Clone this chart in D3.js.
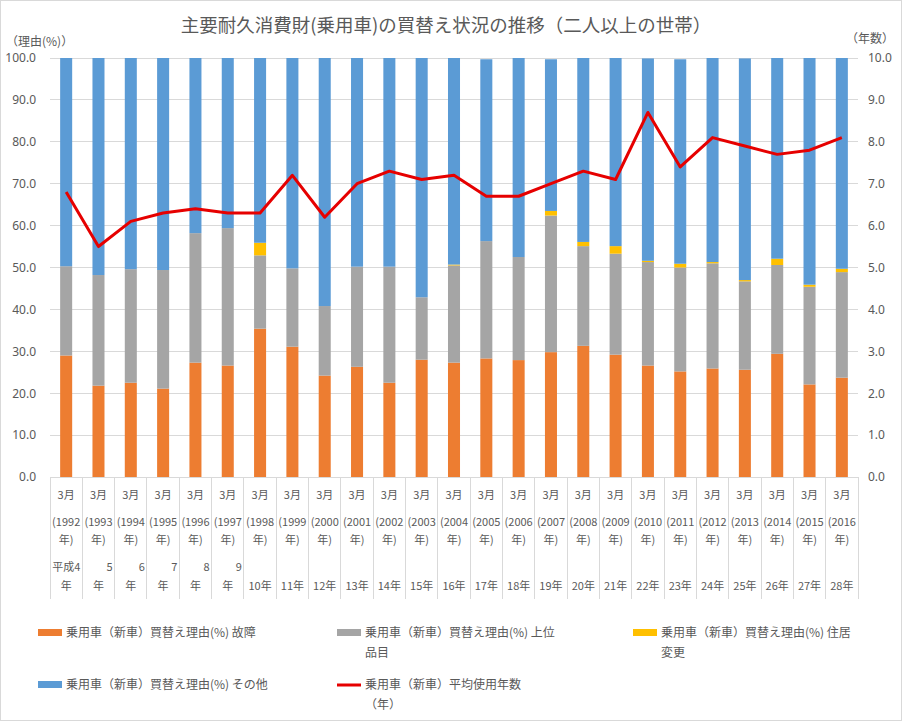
<!DOCTYPE html>
<html><head><meta charset="utf-8">
<script src="https://cdn.jsdelivr.net/npm/d3@7/dist/d3.min.js"></script>
<style>
html,body{margin:0;padding:0;background:#fff;}
text{font-family:"Noto Sans CJK JP","Noto Sans",sans-serif;fill:#595959;}
</style></head>
<body><svg id="c" width="902" height="721"></svg>
<script>
const years = [1992,1993,1994,1995,1996,1997,1998,1999,2000,2001,2002,2003,2004,2005,2006,2007,2008,2009,2010,2011,2012,2013,2014,2015,2016];
const heisei = ["平成4","5","6","7","8","9","10","11","12","13","14","15","16","17","18","19","20","21","22","23","24","25","26","27","28"];
const failure = [29.0,21.8,22.5,21.1,27.3,26.6,35.4,31.1,24.2,26.3,22.5,28.0,27.3,28.3,27.9,29.8,31.3,29.2,26.6,25.2,25.9,25.6,29.4,22.1,23.7];
const upgrade = [21.3,26.4,27.1,28.3,30.9,32.8,17.5,18.7,16.6,23.9,27.7,14.9,23.2,28.0,24.6,32.6,23.8,24.1,24.7,24.8,25.1,21.1,21.2,23.3,25.2];
const moving = [0,0,0,0,0,0,3.0,0,0,0,0,0,0.2,0,0,1.1,1.0,1.8,0.3,0.9,0.3,0.3,1.5,0.5,0.8];
const other = [49.7,51.8,50.4,50.6,41.8,40.6,44.1,50.2,59.2,49.8,49.8,57.1,49.3,43.4,47.5,36.2,43.9,44.9,48.3,48.8,48.7,52.9,47.9,54.1,50.3];
const avgYears = [6.8,5.5,6.1,6.3,6.4,6.3,6.3,7.2,6.2,7.0,7.3,7.1,7.2,6.7,6.7,7.0,7.3,7.1,8.7,7.4,8.1,7.9,7.7,7.8,8.1];
const leftTicks = [0,10,20,30,40,50,60,70,80,90,100];
const rightTicks = [0,1,2,3,4,5,6,7,8,9,10];
const colors = ["#ED7D31","#A5A5A5","#FFC000","#5B9BD5","#E60000"];

const svg = d3.select("#c");
svg.append("rect").attr("x",0.5).attr("y",0.5).attr("width",901).attr("height",720).attr("fill","#fff").attr("stroke","#d9d9d9");

const L=50, R=858, T=58, B=477;
const x = d3.scaleBand().domain(years).range([L,R]).paddingInner(0.628).paddingOuter(0.314);
const xc = d3.scaleBand().domain(years).range([L,R]).padding(0);
const yL = d3.scaleLinear().domain([0,100]).range([B,T]);
const yR = d3.scaleLinear().domain([0,10]).range([B,T]);

// gridlines
svg.append("g").selectAll("line").data(leftTicks.slice(1)).join("line")
  .attr("x1",L).attr("x2",R).attr("y1",d=>yL(d)).attr("y2",d=>yL(d))
  .attr("stroke","#d9d9d9").attr("stroke-width",1).attr("shape-rendering","crispEdges");

// left axis
const gl = svg.append("g").attr("transform",`translate(${L},0)`)
  .call(d3.axisLeft(yL).tickValues(leftTicks).tickFormat(d3.format(".1f")).tickSize(0).tickPadding(14));
gl.select(".domain").remove();
gl.selectAll("text").style("font-size","12px").attr("fill","#595959").style("font-family","'Noto Sans','DejaVu Sans',sans-serif");
// right axis
const gr = svg.append("g").attr("transform",`translate(${R},0)`)
  .call(d3.axisRight(yR).tickValues(rightTicks).tickFormat(d3.format(".1f")).tickSize(0).tickPadding(10));
gr.select(".domain").remove();
gr.selectAll("text").style("font-size","12px").attr("fill","#595959").style("font-family","'Noto Sans','DejaVu Sans',sans-serif");

// stacked bars
const rows = years.map((y,i)=>({year:y,failure:failure[i],upgrade:upgrade[i],moving:moving[i],other:other[i]}));
const stack = d3.stack().keys(["failure","upgrade","moving","other"])(rows);
svg.append("g").selectAll("g").data(stack).join("g").attr("fill",(d,i)=>colors[i])
  .selectAll("rect").data(d=>d).join("rect")
  .attr("x",d=>x(d.data.year)).attr("width",x.bandwidth())
  .attr("y",d=>yL(d[1])).attr("height",d=>Math.max(0,yL(d[0])-yL(d[1])));

// category axis
svg.append("line").attr("x1",L).attr("x2",R).attr("y1",B+0.5).attr("y2",B+0.5).attr("stroke","#d9d9d9");
svg.append("g").selectAll("line").data(d3.range(years.length+1)).join("line")
  .attr("x1",i=>L+i*xc.step()).attr("x2",i=>L+i*xc.step()).attr("y1",B).attr("y2",599)
  .attr("stroke","#d9d9d9").attr("shape-rendering","crispEdges");
const fs = "11px";
const cat = svg.append("g").selectAll("g").data(years).join("g")
  .attr("transform",d=>`translate(${xc(d)+xc.step()/2},0)`);
cat.append("text").attr("y",499).attr("text-anchor","middle").style("font-size",fs).text("3月");
cat.append("text").attr("y",526).attr("text-anchor","middle").style("font-size",fs).text(d=>"("+d);
cat.append("text").attr("y",544).attr("text-anchor","middle").style("font-size",fs).text("年)");
cat.each(function(d,i){
  const g = d3.select(this);
  if(i<6){
    g.append("text").attr("x",xc.step()/2-2).attr("y",571).attr("text-anchor","end").style("font-size",fs).text(heisei[i]);
    g.append("text").attr("y",590).attr("text-anchor","middle").style("font-size",fs).text("年");
  } else {
    g.append("text").attr("y",590).attr("text-anchor","middle").style("font-size",fs).text(heisei[i]+"年");
  }
});

// line
const line = d3.line().x((d,i)=>xc(years[i])+xc.step()/2).y(d=>yR(d));
svg.append("path").datum(avgYears).attr("d",line).attr("fill","none")
  .attr("stroke",colors[4]).attr("stroke-width",3).attr("stroke-linejoin","round");

// titles
svg.append("text").attr("x",446).attr("y",32).attr("text-anchor","middle").style("font-size","18.5px")
  .text("主要耐久消費財(乗用車)の買替え状況の推移（二人以上の世帯）");
svg.append("text").attr("x",6).attr("y",46).style("font-size","12px").text("（理由(%)）");
svg.append("text").attr("x",846).attr("y",43).style("font-size","12px").text("（年数）");

// legend
const legendItems = [
  {c:colors[0],x:38,y:633,lines:["乗用車（新車）買替え理由(%) 故障"],type:"rect"},
  {c:colors[1],x:337,y:633,lines:["乗用車（新車）買替え理由(%) 上位","品目"],type:"rect"},
  {c:colors[2],x:633,y:633,lines:["乗用車（新車）買替え理由(%) 住居","変更"],type:"rect"},
  {c:colors[3],x:38,y:685,lines:["乗用車（新車）買替え理由(%) その他"],type:"rect"},
  {c:colors[4],x:337,y:685,lines:["乗用車（新車）平均使用年数","（年）"],type:"line"}
];
const lg = svg.append("g").selectAll("g").data(legendItems).join("g");
lg.each(function(d){
  const g = d3.select(this);
  if(d.type==="rect") g.append("rect").attr("x",d.x).attr("y",d.y-4).attr("width",24).attr("height",7).attr("fill",d.c);
  else g.append("line").attr("x1",d.x).attr("x2",d.x+24).attr("y1",d.y).attr("y2",d.y).attr("stroke",d.c).attr("stroke-width",3);
  d.lines.forEach((t,j)=>{
    g.append("text").attr("x",d.x+28).attr("y",d.y+4+j*20).style("font-size","12px").text(t);
  });
});
</script></body></html>
